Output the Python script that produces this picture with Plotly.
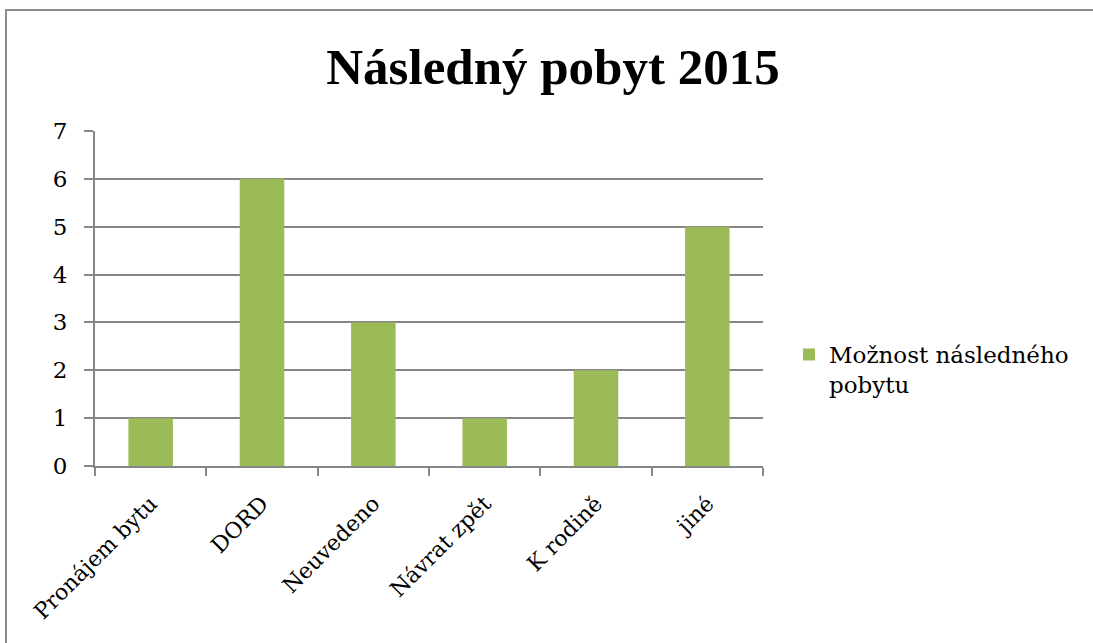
import plotly.graph_objects as go

categories = ["Pronájem bytu", "DORD", "Neuvedeno", "Návrat zpět", "K rodině", "jiné"]
values = [1, 6, 3, 1, 2, 5]
series_name = "Možnost následného<br>pobytu"
title_text = "Následný pobyt 2015"

FONT = "DejaVu Serif"
TFONT = "Liberation Serif"
GRID = "#868686"

fig = go.Figure()
fig.add_trace(go.Bar(x=categories, y=values, name=series_name,
                     marker=dict(color="#9BBB59", line=dict(width=0)),
                     showlegend=True))

L, R, T, B = 95, 763, 131, 466
W, H = 1093, 643
pw, ph = R - L, B - T

def px2x(p):
    return (p - L) / pw

def py2y(p):
    return (B - p) / ph

fig.update_layout(
    width=W, height=H,
    margin=dict(l=L, r=W - R, t=T, b=H - B, autoexpand=False),
    paper_bgcolor="white", plot_bgcolor="white",
    bargap=0.6,
    font=dict(family=FONT, color="black", size=22),
    title=dict(text="<b>" + title_text + "</b>", x=553 / W, xanchor="center",
               y=1 - 66 / H, yanchor="middle",
               font=dict(family=TFONT, size=51, color="black")),
    showlegend=True,
    legend=dict(x=px2x(789), xanchor="left", y=py2y(333), yanchor="top",
                valign="top", font=dict(family=FONT, size=23, color="black"),
                bgcolor="rgba(0,0,0,0)", itemwidth=30, tracegroupgap=0),
    xaxis=dict(type="category", showline=True, linecolor=GRID, linewidth=2,
               ticks="outside", tickson="boundaries", ticklen=8, tickwidth=2,
               tickcolor=GRID, tickangle=-45, showgrid=False,
               ticklabelstandoff=14,
               tickfont=dict(family=FONT, size=22, color="black")),
    yaxis=dict(range=[0, 7], dtick=1, showline=True, linecolor=GRID, linewidth=2,
               ticks="outside", ticklen=9, tickwidth=2, tickcolor=GRID,
               showgrid=True, gridcolor=GRID, gridwidth=2, zeroline=False,
               ticklabelstandoff=12,
               tickfont=dict(family=FONT, size=23, color="black")),
    shapes=[dict(type="rect", xref="paper", yref="paper",
                 x0=px2x(6), x1=px2x(1120), y0=py2y(660), y1=py2y(10),
                 line=dict(color="#8C8C8C", width=2), layer="below")],
)

fig.write_html("out.html", config={"displayModeBar": False},
               post_script="document.body.style.margin='0';document.body.style.padding='0';document.body.style.overflow='hidden';")
